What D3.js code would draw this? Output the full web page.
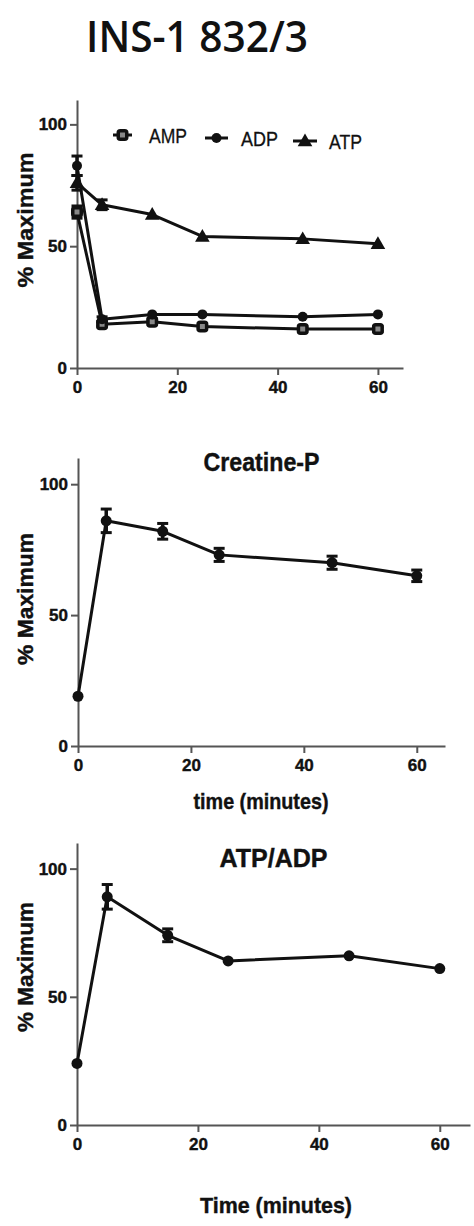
<!DOCTYPE html>
<html>
<head>
<meta charset="utf-8">
<script src="https://cdn.jsdelivr.net/npm/d3@7"></script>
<style>
  html, body { margin: 0; padding: 0; background: #fff; }
  svg { display: block; }
  .axis path, .axis line { stroke: #555; stroke-width: 2; }
  .axis text { font-family: "Liberation Sans", Arial, sans-serif; font-weight: bold; font-size: 17px; fill: #111; stroke: #111; stroke-width: 0.4px; }
</style>
</head>
<body>
<svg id="chart" width="474" height="1226"></svg>
<script>
// Sampling times (minutes)
const times = [0, 5, 15, 25, 45, 60];

// Adenine nucleotides, % of maximum
const ampValues = [64, 18, 19, 17, 16, 16];
const ampErrors = [2.5, 1, 1, 1, 1, 1];
const adpValues = [83, 20, 22, 22, 21, 22];
const adpErrors = [4, 1, 0, 0, 0, 0];
const atpValues = [76, 67, 63, 54, 53, 51];
const atpErrors = [3, 2, 0, 0, 0, 0];

// Creatine phosphate, % of maximum
const creatineValues = [19, 86, 82, 73, 70, 65];
const creatineErrors = [0, 4.5, 3, 2.5, 2.5, 2.2];

// ATP/ADP ratio, % of maximum
const ratioValues = [24, 89, 74, 64, 66, 61];
const ratioErrors = [0, 4.8, 2.5, 0, 0, 0];

const yTicks = [0, 50, 100];
const xTicks = [0, 20, 40, 60];
const xDomain = [0, 65];
const yDomain = [0, 110];

const svg = d3.select("#chart");

// Main title
svg.append("text")
  .attr("x", 86).attr("y", 52)
  .attr("textLength", 222).attr("lengthAdjust", "spacingAndGlyphs")
  .style("font-family", "'Open Sans', sans-serif")
  .style("font-weight", 600)
  .style("font-size", "44px")
  .style("fill", "#111")
  .text("INS-1 832/3");

function drawMarker(g, type, x, y, size) {
  if (type === "square") {
    g.append("rect")
      .attr("x", x - size / 2 + 1.75).attr("y", y - size / 2 + 1.75)
      .attr("width", size - 3.5).attr("height", size - 3.5)
      .attr("rx", 2)
      .attr("fill", "#888").attr("stroke", "#111").attr("stroke-width", 3.5);
  } else if (type === "triangle") {
    g.append("path")
      .attr("d", d3.symbol(d3.symbolTriangle, size * size * 0.55)())
      .attr("transform", `translate(${x},${y + 1})`)
      .attr("fill", "#111");
  } else {
    g.append("circle")
      .attr("cx", x).attr("cy", y).attr("r", size / 2)
      .attr("fill", "#111");
  }
}

function drawPanel(p) {
  const x = d3.scaleLinear().domain(xDomain).range([p.left, p.right]);
  const y = d3.scaleLinear().domain(yDomain).range([p.bottom, p.top]);
  const g = svg.append("g");

  // Axes
  g.append("g").attr("class", "axis")
    .attr("transform", `translate(0,${p.bottom})`)
    .call(d3.axisBottom(x).tickValues(xTicks).tickSize(7).tickSizeOuter(0).tickPadding(6))
    .call(a => a.selectAll("text").attr("dy", "0.71em"));
  g.append("g").attr("class", "axis")
    .attr("transform", `translate(${p.left},0)`)
    .call(d3.axisLeft(y).tickValues(yTicks).tickSize(7).tickSizeOuter(0).tickPadding(3));

  // Y axis label
  g.append("text")
    .attr("transform", `translate(33,${p.ylabelY}) rotate(-90)`)
    .attr("text-anchor", "middle")
    .attr("textLength", p.ylabelLen).attr("lengthAdjust", "spacingAndGlyphs")
    .style("font-family", "'Liberation Sans', Arial, sans-serif")
    .style("font-weight", "bold").style("font-size", "22px").style("fill", "#111")
    .style("stroke", "#111").style("stroke-width", "0.4px")
    .text("% Maximum");

  if (p.title) {
    g.append("text")
      .attr("x", (p.left + p.right) / 2).attr("y", p.titleY)
      .attr("text-anchor", "middle")
      .attr("textLength", p.titleLen).attr("lengthAdjust", "spacingAndGlyphs")
      .style("font-family", "'Liberation Sans', Arial, sans-serif")
      .style("font-weight", "bold").style("font-size", "25px").style("fill", "#111")
      .style("stroke", "#111").style("stroke-width", "0.4px")
      .text(p.title);
  }
  if (p.xlabel) {
    g.append("text")
      .attr("x", p.xlabelX).attr("y", p.xlabelY)
      .attr("text-anchor", "middle")
      .attr("textLength", p.xlabelLen).attr("lengthAdjust", "spacingAndGlyphs")
      .style("font-family", "'Liberation Sans', Arial, sans-serif")
      .style("font-weight", "bold").style("font-size", "22px").style("fill", "#111")
      .style("stroke", "#111").style("stroke-width", "0.4px")
      .text(p.xlabel);
  }

  const line = d3.line().x((d, i) => x(times[i])).y(d => y(d));

  p.series.forEach(s => {
    const sg = g.append("g");
    sg.append("path")
      .attr("d", line(s.values))
      .attr("fill", "none").attr("stroke", "#111").attr("stroke-width", 3)
      .attr("stroke-linejoin", "round");
    // Error bars (SEM)
    s.values.forEach((v, i) => {
      const e = s.errors[i];
      if (!e) return;
      const cx = x(times[i]);
      const y1 = y(v + e), y2 = y(v - e);
      sg.append("line").attr("x1", cx).attr("x2", cx).attr("y1", y1).attr("y2", y2)
        .attr("stroke", "#111").attr("stroke-width", 3.5);
      [y1, y2].forEach(yy => sg.append("line")
        .attr("x1", cx - 5.5).attr("x2", cx + 5.5).attr("y1", yy).attr("y2", yy)
        .attr("stroke", "#111").attr("stroke-width", 3));
    });
    s.values.forEach((v, i) => drawMarker(sg, s.marker, x(times[i]), y(v), s.size));
  });
}

// Panel 1: AMP / ADP / ATP
drawPanel({
  left: 77, right: 403, top: 100, bottom: 368,
  ylabelY: 220, ylabelLen: 135,
  series: [
    { name: "AMP", values: ampValues, errors: ampErrors, marker: "square", size: 12 },
    { name: "ADP", values: adpValues, errors: adpErrors, marker: "circle", size: 10 },
    { name: "ATP", values: atpValues, errors: atpErrors, marker: "triangle", size: 13 }
  ]
});

// Legend for panel 1
const legendItems = [
  { name: "AMP", marker: "square", x1: 113, x2: 132, cy: 135, tx: 149, tlen: 38, size: 12 },
  { name: "ADP", marker: "circle", x1: 205, x2: 228, cy: 138, tx: 241, tlen: 37, size: 10 },
  { name: "ATP", marker: "triangle", x1: 293, x2: 317, cy: 141, tx: 329, tlen: 33, size: 13 }
];
const lg = svg.append("g");
legendItems.forEach(it => {
  lg.append("line").attr("x1", it.x1).attr("x2", it.x2).attr("y1", it.cy).attr("y2", it.cy)
    .attr("stroke", "#111").attr("stroke-width", 3);
  drawMarker(lg, it.marker, (it.x1 + it.x2) / 2, it.cy, it.size);
  lg.append("text")
    .attr("x", it.tx).attr("y", it.cy + 7.5)
    .attr("textLength", it.tlen).attr("lengthAdjust", "spacingAndGlyphs")
    .style("font-family", "'Liberation Sans', Arial, sans-serif")
    .style("font-size", "21px").style("fill", "#111")
    .style("stroke", "#111").style("stroke-width", "0.3px")
    .text(it.name);
});

// Panel 2: Creatine phosphate
drawPanel({
  left: 78, right: 445, top: 458, bottom: 746,
  ylabelY: 599, ylabelLen: 132,
  title: "Creatine-P", titleY: 471, titleLen: 116,
  xlabel: "time (minutes)", xlabelX: 261, xlabelY: 809, xlabelLen: 135,
  series: [
    { name: "Creatine-P", values: creatineValues, errors: creatineErrors, marker: "circle", size: 11 }
  ]
});

// Panel 3: ATP/ADP ratio
drawPanel({
  left: 77, right: 470, top: 843, bottom: 1125,
  ylabelY: 967, ylabelLen: 130,
  title: "ATP/ADP", titleY: 867, titleLen: 108,
  xlabel: "Time (minutes)", xlabelX: 276, xlabelY: 1213, xlabelLen: 152,
  series: [
    { name: "ATP/ADP", values: ratioValues, errors: ratioErrors, marker: "circle", size: 11 }
  ]
});
</script>
</body>
</html>
